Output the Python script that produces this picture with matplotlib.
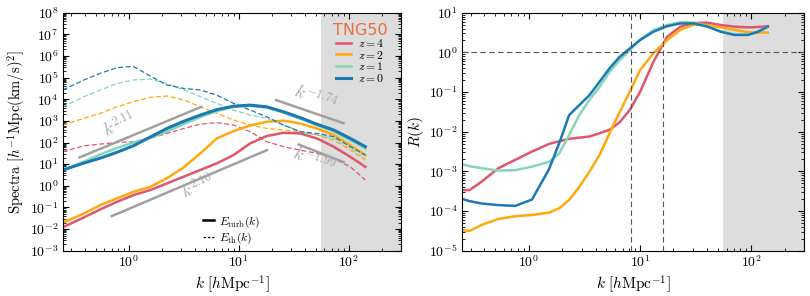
import numpy as np
import matplotlib
matplotlib.use("Agg")
import matplotlib.pyplot as plt
from matplotlib.ticker import FuncFormatter, LogLocator, FixedLocator

plt.rcParams['mathtext.fontset'] = 'cm'
plt.rcParams['font.family'] = 'serif'
plt.rcParams['font.serif'] = ['DejaVu Serif']

# colours per redshift
colors = {'4': '#e0566b', '2': '#ffa80f', '1': '#84d6b6', '0': '#1b79b3'}

# ---- left panel: spectra (log10 values) ----
k_spec = [0.25, 0.39, 0.55, 0.78, 1.1, 1.56, 2.22, 3.15, 4.47, 6.32,
          8.97, 12.7, 18.0, 25.6, 36.3, 51.4, 73.0, 103.5, 142.0]

turb_z0 = [0.73, 1.05, 1.28, 1.55, 1.85, 2.25, 2.65, 2.98, 3.27, 3.52,
           3.68, 3.73, 3.65, 3.42, 3.15, 2.85, 2.58, 2.19, 1.81]
turb_z1 = [0.70, 1.12, 1.45, 1.75, 2.00, 2.22, 2.50, 2.85, 3.18, 3.45,
           3.65, 3.70, 3.62, 3.38, 3.10, 2.80, 2.52, 2.12, 1.72]
turb_z2 = [-1.71, -1.28, -0.89, -0.58, -0.28, -0.05, 0.35, 0.85, 1.50, 2.19,
           2.53, 2.79, 2.96, 3.01, 2.88, 2.65, 2.35, 1.88, 1.42]
turb_z4 = [-1.92, -1.46, -1.09, -0.74, -0.43, -0.20, 0.11, 0.42, 0.73, 1.04,
           1.42, 1.96, 2.30, 2.45, 2.42, 2.19, 1.81, 1.34, 0.88]

th_z0 = [4.43, 4.89, 5.20, 5.46, 5.52, 5.08, 4.66, 4.50, 4.43, 4.19,
         3.81, 3.50, 3.19, 2.81, 2.50, 2.42, 2.27, 1.81, 1.42]
th_z1 = [3.65, 4.12, 4.43, 4.73, 4.89, 4.93, 4.73, 4.43, 4.12, 3.81,
         3.50, 3.27, 3.12, 2.81, 2.50, 2.35, 2.19, 1.73, 1.27]
th_z2 = [2.81, 3.12, 3.35, 3.65, 3.89, 4.09, 4.15, 3.97, 3.65, 3.35,
         3.04, 2.81, 2.65, 2.58, 2.50, 2.35, 2.11, 1.65, 1.19]
th_z4 = [1.57, 1.85, 1.93, 2.00, 2.04, 2.19, 2.42, 2.65, 2.85, 2.92,
         2.81, 2.50, 2.04, 1.81, 1.65, 1.50, 1.27, 0.88, 0.27]

# power-law guides: slope, log10 k start, log10 k end, log10 amplitude at start
pl_slopes = [2.11, 2.16, -1.74, -1.99]
pl_logk0 = [-0.449, -0.155, 1.341, 1.545]
pl_logk1 = [0.659, 1.256, 1.954, 1.954]
pl_logy0 = [1.31, -1.40, 3.96, 1.91]
pl_labels = [r'$k^{2.11}$', r'$k^{2.16}$', r'$k^{-1.74}$', r'$k^{-1.99}$']
pl_text_k = [0.83, 4.3, 50.0, 48.0]
pl_text_y = [650.0, 0.9, 11000.0, 14.0]
pl_text_rot = [25, 24, -20, -21]

# ---- right panel: ratio R(k) (log10 values) ----
k_ratio = [0.24, 0.295, 0.377, 0.533, 0.757, 1.07, 1.52, 1.88, 2.31, 2.85,
           3.51, 4.33, 5.33, 6.58, 8.11, 10.0, 13.2, 17.5, 23.1, 30.5,
           40.4, 53.3, 70.5, 93.3, 115.0, 141.0]
R_z4 = [-3.47, -3.47, -3.26, -2.92, -2.71, -2.50, -2.31, -2.24, -2.18, -2.15,
        -2.12, -2.04, -1.95, -1.76, -1.45, -1.00, -0.24, 0.39, 0.65, 0.74,
        0.75, 0.69, 0.65, 0.63, 0.64, 0.66]
R_z2 = [-4.48, -4.50, -4.35, -4.20, -4.13, -4.10, -4.04, -3.93, -3.72, -3.39,
        -3.01, -2.59, -2.04, -1.50, -0.99, -0.45, -0.02, 0.31, 0.57, 0.70,
        0.69, 0.63, 0.57, 0.51, 0.50, 0.50]
R_z1 = [-2.80, -2.87, -2.92, -2.98, -2.97, -2.88, -2.76, -2.55, -2.08, -1.58,
        -1.20, -0.87, -0.49, -0.19, 0.06, 0.31, 0.56, 0.69, 0.76, 0.75,
        0.66, 0.53, 0.45, 0.45, 0.53, 0.65]
R_z0 = [-3.68, -3.75, -3.81, -3.85, -3.87, -3.71, -2.95, -2.29, -1.58, -1.33,
        -1.08, -0.74, -0.40, -0.11, 0.10, 0.31, 0.52, 0.66, 0.73, 0.73,
        0.65, 0.52, 0.44, 0.44, 0.52, 0.65]

k_crit = [8.3, 16.0]
k_shade = 56.0
k_major = [1.0, 10.0, 100.0]


def decade(v, pos):
    return r'$10^{%d}$' % int(round(np.log10(v)))


def style_axis(ax):
    ax.set_xscale('log')
    ax.set_yscale('log')
    ax.tick_params(which='both', direction='in', top=True, right=True, labelsize=10, pad=3)
    ax.tick_params(which='major', length=4.5)
    ax.tick_params(which='minor', length=2.5)
    ax.xaxis.set_major_locator(FixedLocator(k_major))
    ax.yaxis.set_major_locator(LogLocator(base=10, numticks=20))
    ax.yaxis.set_minor_locator(LogLocator(base=10, subs=np.arange(2, 10), numticks=20))
    ax.xaxis.set_major_formatter(FuncFormatter(decade))
    ax.yaxis.set_major_formatter(FuncFormatter(decade))
    ax.set_xlim(0.25, 300)
    ax.axvspan(k_shade, 300, color='#dddddd', zorder=0, lw=0)
    ax.set_xlabel(r'$k\ [h\mathrm{Mpc}^{-1}]$', fontsize=11, labelpad=2)


fig = plt.figure(figsize=(8.1, 2.96), dpi=100)
ax1 = fig.add_axes([0.0774, 0.153, 0.4177, 0.804])
ax2 = fig.add_axes([0.570, 0.153, 0.423, 0.804])

style_axis(ax1)
ks = np.array(k_spec)
turb = {'4': turb_z4, '2': turb_z2, '1': turb_z1, '0': turb_z0}
th = {'4': th_z4, '2': th_z2, '1': th_z1, '0': th_z0}
handles = []
for z in ['4', '2', '1', '0']:
    lw = 2.2 if z == '0' else 1.8
    h, = ax1.plot(ks, 10 ** np.array(turb[z]), color=colors[z], lw=lw, label=r'$z=%s$' % z)
    ax1.plot(ks, 10 ** np.array(th[z]), color=colors[z], lw=0.9, ls=(0, (4, 2)))
    handles.append(h)

for i in range(len(pl_slopes)):
    lk = np.array([pl_logk0[i], pl_logk1[i]])
    ly = pl_logy0[i] + pl_slopes[i] * (lk - pl_logk0[i])
    ax1.plot(10 ** lk, 10 ** ly, color='#a0a0a0', lw=1.8)
    ax1.text(pl_text_k[i], pl_text_y[i], pl_labels[i], color='#a8a8a8', fontsize=12.5,
             rotation=pl_text_rot[i], ha='center', va='center')

ax1.set_ylim(1e-3, 1e8)
ax1.set_ylabel(r'$\mathrm{Spectra}\ [h^{-1}\mathrm{Mpc}(\mathrm{km/s})^2]$', fontsize=10.5, labelpad=2)

leg1 = ax1.legend(handles=handles, loc='upper right', bbox_to_anchor=(0.985, 0.99),
                  frameon=False, fontsize=8.5, handlelength=1.3, labelspacing=-0.12,
                  handletextpad=0.6, title='TNG50', borderaxespad=0.3)
leg1.get_title().set_color('#ea6f3e')
leg1.get_title().set_fontsize(11.5)
leg1.get_title().set_family('DejaVu Sans')
ax1.add_artist(leg1)

s_h, = ax1.plot([], [], color='k', lw=1.8, label=r'$E_{\rm turb}(k)$')
d_h, = ax1.plot([], [], color='k', lw=0.9, ls=(0, (2, 1.5)), label=r'$E_{\rm th}(k)$')
ax1.legend(handles=[s_h, d_h], loc='lower center', bbox_to_anchor=(0.5, -0.025),
           frameon=False, fontsize=8.5, handlelength=0.9, labelspacing=0.1,
           handletextpad=0.5)

style_axis(ax2)
kr = np.array(k_ratio)
ratio = {'4': R_z4, '2': R_z2, '1': R_z1, '0': R_z0}
for z in ['4', '2', '1', '0']:
    ax2.plot(kr, 10 ** np.array(ratio[z]), color=colors[z], lw=1.8)
for kc in k_crit:
    ax2.axvline(kc, color='#555555', lw=0.8, ls=(0, (5, 3)))
ax2.axhline(1.0, color='#555555', lw=0.8, ls=(0, (5, 3)))
ax2.set_ylim(1e-5, 10)
ax2.set_ylabel(r'$R(k)$', fontsize=11, labelpad=2)

fig.savefig('out.png', dpi=100)
